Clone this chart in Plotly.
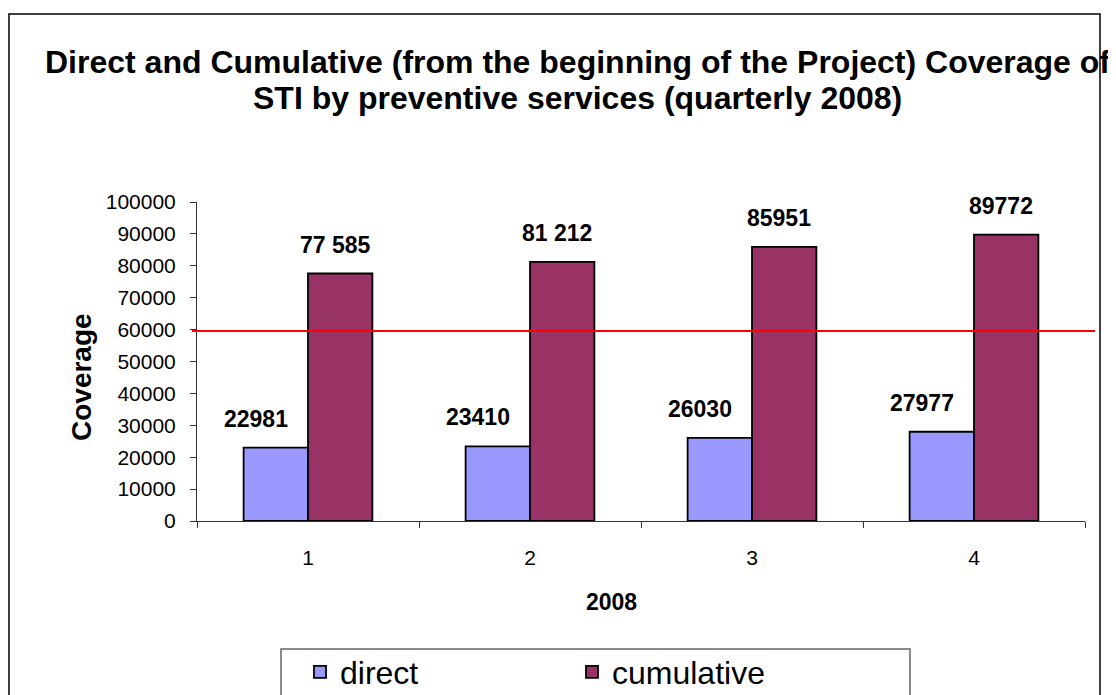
import plotly.graph_objects as go

# ---- data ----
quarters = ["1", "2", "3", "4"]
direct = [22981, 23410, 26030, 27977]
cumulative = [77585, 81212, 85951, 89772]
direct_labels = ["22981", "23410", "26030", "27977"]
cumulative_labels = ["77 585", "81 212", "85951", "89772"]
reference_level = 59600
y_ticks = [0, 10000, 20000, 30000, 40000, 50000, 60000, 70000, 80000, 90000, 100000]

W, H = 1116, 695
OFF = 8  # page body margin offset (screen = figure + OFF)
L, R, T, B = 197, 1085, 202, 521  # plot area in screen px
PW, PH = R - L, B - T

def px(x):
    return (x - L) / PW

def py(y):
    return (B - y) / PH

FONT = "Arial, Liberation Sans, sans-serif"

fig = go.Figure()
fig.add_trace(go.Bar(
    x=quarters, y=direct, name="direct",
    marker=dict(color="#9999FF", line=dict(color="black", width=1.8)),
))
fig.add_trace(go.Bar(
    x=quarters, y=cumulative, name="cumulative",
    marker=dict(color="#993366", line=dict(color="black", width=1.8)),
))

annotations = []
for i, (v, t) in enumerate(zip(direct, direct_labels)):
    annotations.append(dict(x=i, y=v, xref="x", yref="y", text=t, showarrow=False,
                            xshift=-52, yshift=14, yanchor="bottom",
                            font=dict(family=FONT, size=23, color="black", weight="bold")))
for i, (v, t) in enumerate(zip(cumulative, cumulative_labels)):
    annotations.append(dict(x=i, y=v, xref="x", yref="y", text=t, showarrow=False,
                            xshift=27, yshift=14, yanchor="bottom",
                            font=dict(family=FONT, size=23, color="black", weight="bold")))

# title (two lines)
annotations.append(dict(
    x=px(577), y=py(62), xref="paper", yref="paper", showarrow=False,
    text="<b>Direct and Cumulative (from the beginning of the Project) Coverage of</b>",
    xanchor="center", yanchor="middle",
    font=dict(family=FONT, size=32, color="black")))
annotations.append(dict(
    x=px(577), y=py(98), xref="paper", yref="paper", showarrow=False,
    text="<b>STI by preventive services (quarterly 2008)</b>",
    xanchor="center", yanchor="middle",
    font=dict(family=FONT, size=32, color="black")))
# axis titles
annotations.append(dict(
    x=px(81), y=py(377), xref="paper", yref="paper", showarrow=False,
    text="<b>Coverage</b>", textangle=-90, xanchor="center", yanchor="middle",
    font=dict(family=FONT, size=28, color="black")))
annotations.append(dict(
    x=px(611), y=py(602), xref="paper", yref="paper", showarrow=False,
    text="<b>2008</b>", xanchor="center", yanchor="middle",
    font=dict(family=FONT, size=23, color="black")))

shapes = [
    # outer chart border
    dict(type="rect", xref="paper", yref="paper",
         x0=px(9), x1=px(1100), y0=py(720), y1=py(14),
         line=dict(color="black", width=1.5), fillcolor="rgba(0,0,0,0)", layer="below"),
    # legend box
    dict(type="rect", xref="paper", yref="paper",
         x0=px(281), x1=px(910), y0=py(715), y1=py(649),
         line=dict(color="#666666", width=1.5), fillcolor="rgba(0,0,0,0)"),
    # red reference line
    dict(type="line", xref="paper", yref="y",
         x0=px(192), x1=px(1095), y0=reference_level, y1=reference_level,
         line=dict(color="#FF0000", width=2)),
]

fig.update_layout(
    width=W, height=H,
    margin=dict(l=L - OFF, r=W - (R - OFF), t=T - OFF, b=H - (B - OFF), pad=0, autoexpand=False),
    paper_bgcolor="white", plot_bgcolor="white",
    barmode="group", bargap=0.42, bargroupgap=0,
    font=dict(family=FONT, color="black"),
    showlegend=True,
    legend=dict(orientation="h", x=px(300), xanchor="left",
                y=py(672), yanchor="middle",
                font=dict(family=FONT, size=32, color="black"),
                bgcolor="rgba(0,0,0,0)", borderwidth=0, entrywidth=227),
    annotations=annotations,
    shapes=shapes,
)
fig.update_xaxes(type="category", categoryorder="array", categoryarray=quarters,
                 range=[-0.5, 3.5], automargin=False,
                 showline=True, linecolor="#333333", linewidth=1,
                 ticks="outside", ticklen=6, tickcolor="#333333", tickson="boundaries",
                 tickfont=dict(family=FONT, size=21, color="black"),
                 ticklabelstandoff=18, showgrid=False, zeroline=False)
fig.update_yaxes(range=[0, 100000], tickvals=y_ticks, tickformat="d", automargin=False,
                 showline=True, linecolor="#333333", linewidth=1,
                 ticks="outside", ticklen=6, tickcolor="#333333",
                 tickfont=dict(family=FONT, size=21, color="black"),
                 ticklabelstandoff=10, showgrid=False, zeroline=False)

fig.write_html("out.html")
